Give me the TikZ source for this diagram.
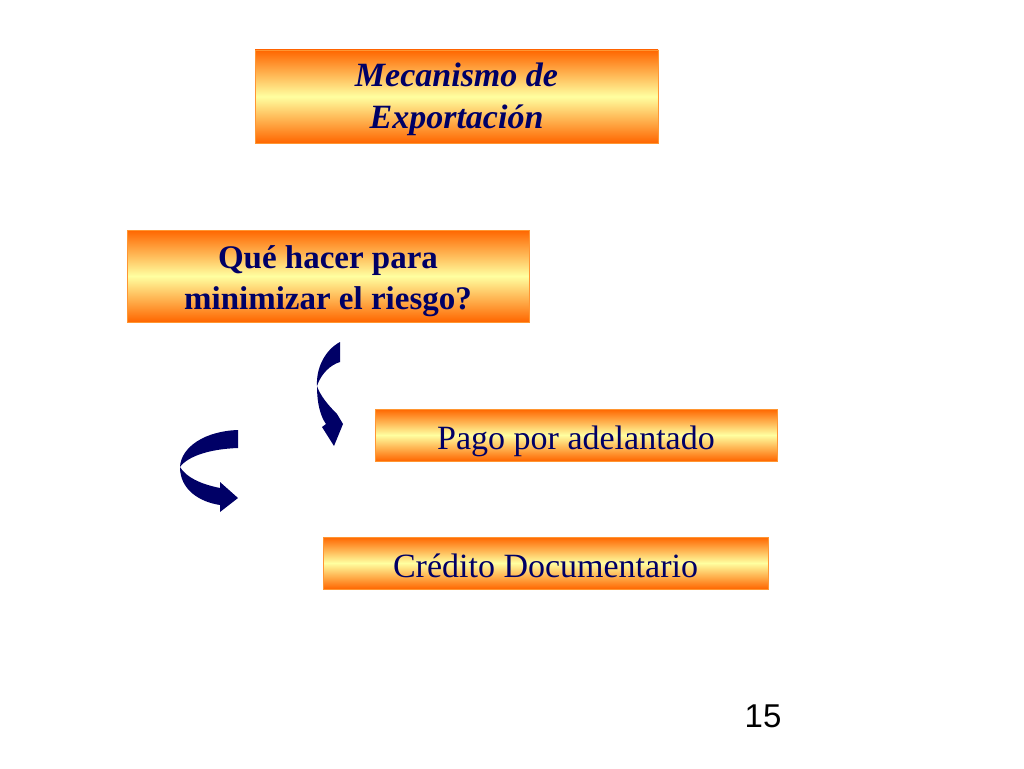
\documentclass[tikz,border=0pt]{standalone}
\usepackage{fontspec}
\setmainfont{Liberation Serif}
\newfontfamily\numfont{Liberation Sans}
\usetikzlibrary{positioning}

\definecolor{navy}{RGB}{0,0,102}
\definecolor{deeporange}{RGB}{255,102,0}
\definecolor{paleyellow}{RGB}{255,255,160}
\definecolor{edgeorange}{RGB}{255,150,50}

\begin{document}
\begin{tikzpicture}[x=1pt,y=-1pt,
    box node/.style={rectangle,draw=edgeorange,line width=0.8pt,
      top color=deeporange,bottom color=deeporange,middle color=paleyellow,
      text=navy,align=center,inner sep=0pt},
    head node/.style={box node,font=\fontsize{34}{41.5}\selectfont\bfseries\itshape,
      text height=70pt,text depth=7pt},
    ask node/.style={box node,font=\fontsize{33}{40.5}\selectfont\bfseries,
      text height=73pt,text depth=7pt},
    opt node/.style={box node,font=\fontsize{34}{40}\selectfont,
      text height=34pt,text depth=6pt},
    turn arrow/.style={fill=navy,draw=none}
    ]
    \useasboundingbox (0,0) rectangle (1024,768);

    \node[head node,minimum width=403,minimum height=93](mec) at (456.5,96.5){Mecanismo de\\Exportación};
    \node[ask node,minimum width=402,minimum height=92](que) at (328,276){Qué hacer para\\minimizar el riesgo?};
    \node[opt node,minimum width=402,minimum height=52](pago) at (576,435){Pago por adelantado};
    \node[opt node,minimum width=445,minimum height=52](cred) at (545.5,563){Crédito Documentario};

    % curved arrows
    \fill[turn arrow] (340,342) .. controls (325,350) and (316,368) .. (317,386)
      .. controls (317,405) and (321,417) .. (326,424) -- (322,427) -- (334,446) -- (343,424) -- (337,414)
      .. controls (327,404) and (320,395) .. (317,386)
      .. controls (321,374) and (330,365) .. (340,362) -- cycle;
    \fill[turn arrow] (238,430) .. controls (205,431) and (181,447) .. (180,467)
      .. controls (180,490) and (200,502) .. (220,505) -- (220,512) -- (238,498) -- (220,482) -- (220,488)
      .. controls (200,484) and (186,477) .. (180,467)
      .. controls (188,456) and (210,449) .. (238,448) -- cycle;

    \node[font=\numfont\fontsize{33}{40}\selectfont](num) at (763,716){15};
  \end{tikzpicture}
\end{document}
